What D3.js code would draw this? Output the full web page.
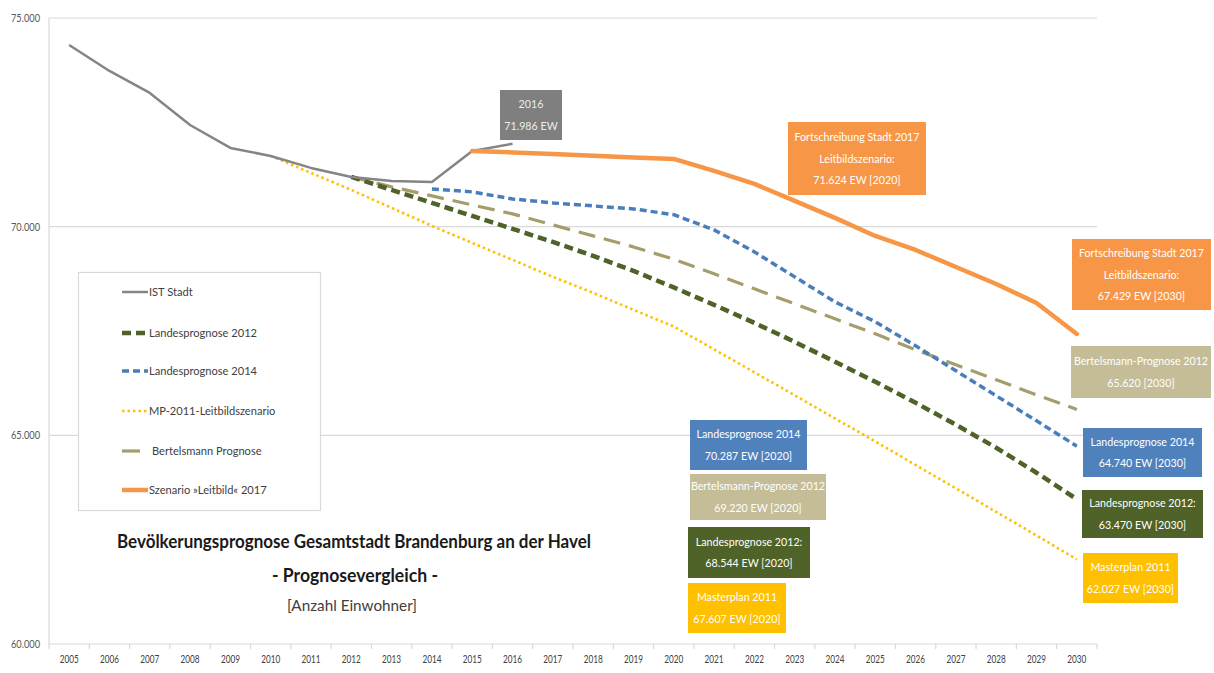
<!DOCTYPE html>
<html>
<head>
<meta charset="utf-8">
<script src="https://cdn.jsdelivr.net/npm/d3@7"></script>
<style>
  body { margin: 0; background: #fff; }
  svg { display: block; font-family: Lato, 'DejaVu Sans Condensed', sans-serif; }
</style>
</head>
<body>
<svg id="chart" width="1214" height="673"></svg>
<script>
// Years on the category axis
const years = [2005, 2006, 2007, 2008, 2009, 2010, 2011, 2012, 2013, 2014, 2015, 2016, 2017,
               2018, 2019, 2020, 2021, 2022, 2023, 2024, 2025, 2026, 2027, 2028, 2029, 2030];

// Population per year (null = no value for that year)
const istStadt = [74353, 73731, 73204, 72437, 71887, 71695, 71408, 71192, 71096, 71072, 71815, 71986,
                  null, null, null, null, null, null, null, null, null, null, null, null, null, null];
const landesprognose2012 = [null, null, null, null, null, null, null,
                  71192, 70881, 70569, 70258, 69947, 69635, 69300, 68941, 68544,
                  68126, 67695, 67240, 66761, 66282, 65780, 65253, 64702, 64103, 63470];
const landesprognose2014 = [null, null, null, null, null, null, null, null, null,
                  70905, 70833, 70665, 70569, 70497, 70425, 70287,
                  69923, 69396, 68797, 68198, 67720, 67145, 66546, 65947, 65348, 64740];
const mp2011Leitbild = [null, null, null, null, null,
                  71695, 71288, 70881, 70450, 70018, 69611, 69204, 68797, 68414, 68007, 67607,
                  67060, 66510, 65960, 65405, 64850, 64290, 63730, 63165, 62600, 62027];
const bertelsmann = [null, null, null, null, null, null, null,
                  71192, 70953, 70737, 70521, 70306, 70042, 69779, 69515, 69220,
                  68869, 68510, 68151, 67791, 67432, 67049, 66690, 66330, 65971, 65620];
const leitbild2017 = [null, null, null, null, null, null, null, null, null, null,
                  71815, 71780, 71740, 71700, 71660, 71624,
                  71336, 71025, 70617, 70210, 69778, 69441, 69034, 68626, 68171, 67429];

// Value axis ticks
const yTicks = [60000, 65000, 70000, 75000];

// Legend labels
const legendLabels = ["IST Stadt", "Landesprognose 2012", "Landesprognose 2014",
                      "MP-2011-Leitbildszenario", "Bertelsmann Prognose", "Szenario \u00bbLeitbild\u00ab 2017"];

// Chart title lines
const titleLines = ["Bev\u00f6lkerungsprognose Gesamtstadt Brandenburg an der Havel",
                    "- Prognosevergleich -", "[Anzahl Einwohner]"];

// ---------------------------------------------------------------------------
const de = d3.formatLocale({ decimal: ",", thousands: ".", grouping: [3], currency: ["", " \u20ac"] });
const fmt = de.format(",d");

const svg = d3.select("#chart");
const plotL = 49, plotR = 1097, plotT = 18, plotB = 644;

// Natural width of a string at a given size
function measure(str, size, weight) {
  const t = svg.append("text").style("font-size", size + "px").attr("font-weight", weight || "normal").text(str);
  const w = t.node().getComputedTextLength();
  t.remove();
  return w;
}
// Narrow the glyphs horizontally (condensed look) by a factor k of their natural width
function squeeze(sel, k) {
  sel.each(function () {
    const w = this.getComputedTextLength();
    d3.select(this).attr("textLength", w * k).attr("lengthAdjust", "spacingAndGlyphs");
  });
}
// Factor that brings `str` at `size` to `target` pixels wide
const factorFor = (str, size, weight, target) => target / measure(str, size, weight);

const x = d3.scaleBand().domain(years).range([plotL, plotR]).paddingInner(0).paddingOuter(0);
const xc = yr => x(yr) + x.bandwidth() / 2;
const y = d3.scaleLinear().domain([60000, 75000]).range([plotB, plotT]);

// Gridlines
const grid = svg.append("g");
grid.selectAll("line.h").data(yTicks).join("line")
  .attr("x1", plotL).attr("x2", plotR)
  .attr("y1", d => y(d)).attr("y2", d => y(d))
  .attr("stroke", "#d9d9d9").attr("stroke-width", 1.2);
grid.append("line").attr("x1", plotL).attr("x2", plotL).attr("y1", plotT).attr("y2", plotB)
  .attr("stroke", "#d9d9d9").attr("stroke-width", 1.2);

// Value axis labels
const kYAxis = factorFor("75.000", 10.5, "normal", 29);
const yAxis = d3.axisLeft(y).tickValues(yTicks).tickFormat(fmt).tickSize(0).tickPadding(9);
svg.append("g").attr("transform", `translate(${plotL},0)`).call(yAxis)
  .call(g => g.select(".domain").remove())
  .call(g => g.selectAll("text").attr("fill", "#595959").style("font-size", "10.5px")
    .style("font-family", "Lato, sans-serif").call(squeeze, kYAxis));

// Category axis
const kXAxis = factorFor("2005", 10.5, "normal", 19);
const xAxis = d3.axisBottom(x).tickSize(0).tickPadding(12);
svg.append("g").attr("transform", `translate(0,${plotB})`).call(xAxis)
  .call(g => g.select(".domain").remove())
  .call(g => g.selectAll("text").attr("fill", "#404040").style("font-size", "10.5px")
    .style("font-family", "Lato, sans-serif").call(squeeze, kXAxis));
// tick marks between categories
svg.append("g").selectAll("line").data(years.concat([null])).join("line")
  .attr("x1", (d, i) => plotL + i * x.bandwidth()).attr("x2", (d, i) => plotL + i * x.bandwidth())
  .attr("y1", plotB).attr("y2", plotB + 5)
  .attr("stroke", "#d9d9d9").attr("stroke-width", 1.2);

// Series
const series = [
  { name: legendLabels[0], values: istStadt, color: "#858585", width: 2.5, dash: null, cap: "butt" },
  { name: legendLabels[1], values: landesprognose2012, color: "#4f6228", width: 4.5, dash: "9,5", cap: "butt" },
  { name: legendLabels[2], values: landesprognose2014, color: "#4a7ebb", width: 3.5, dash: "7,4", cap: "butt" },
  { name: legendLabels[3], values: mp2011Leitbild, color: "#ffc000", width: 2.6, dash: "2.5,3", cap: "butt" },
  { name: legendLabels[4], values: bertelsmann, color: "#a69d6c", width: 3.2, dash: "17,9", cap: "butt" },
  { name: legendLabels[5], values: leitbild2017, color: "#f79646", width: 4.5, dash: null, cap: "round" }
];

const line = d3.line()
  .defined(d => d.v != null)
  .x(d => xc(d.year))
  .y(d => y(d.v));

const drawOrder = [3, 4, 1, 2, 0, 5];
svg.append("g").selectAll("path").data(drawOrder.map(i => series[i])).join("path")
  .attr("d", s => line(years.map((yr, i) => ({ year: yr, v: s.values[i] }))))
  .attr("fill", "none")
  .attr("stroke", s => s.color)
  .attr("stroke-width", s => s.width)
  .attr("stroke-dasharray", s => s.dash)
  .attr("stroke-linecap", s => s.cap)
  .attr("stroke-linejoin", "round");

// Legend
const kLegend = factorFor("Landesprognose 2012", 12, "normal", 108);
const lg = svg.append("g");
lg.append("rect").attr("x", 78.5).attr("y", 272.5).attr("width", 242).attr("height", 238)
  .attr("fill", "#fff").attr("stroke", "#d9d9d9").attr("stroke-width", 1.2);
const legendRows = [292, 333, 371, 411, 451, 490];
series.forEach((s, i) => {
  const yy = legendRows[i];
  const short = i === 4;
  lg.append("line").attr("x1", 122).attr("x2", short ? 140 : 148).attr("y1", yy).attr("y2", yy)
    .attr("stroke", s.color).attr("stroke-width", s.width)
    .attr("stroke-dasharray", i === 4 ? null : s.dash);
  lg.append("text").attr("x", short ? 152 : 149).attr("y", yy).attr("dy", "0.35em")
    .attr("fill", "#404040").style("font-size", "12px").text(s.name).call(squeeze, kLegend);
});

// Title
const titleG = svg.append("g").attr("text-anchor", "middle");
titleG.append("text").attr("x", 354).attr("y", 548).attr("font-weight", "bold")
  .attr("fill", "#1a1a1a").style("font-size", "19px")
  .attr("textLength", 474).attr("lengthAdjust", "spacingAndGlyphs").text(titleLines[0]);
titleG.append("text").attr("x", 355).attr("y", 582).attr("font-weight", "bold")
  .attr("fill", "#1a1a1a").style("font-size", "19px")
  .attr("textLength", 166).attr("lengthAdjust", "spacingAndGlyphs").text(titleLines[1]);
titleG.append("text").attr("x", 352).attr("y", 611)
  .attr("fill", "#404040").style("font-size", "16px")
  .attr("textLength", 130).attr("lengthAdjust", "spacingAndGlyphs").text(titleLines[2]);

// Value call-out boxes
const valueAt = (arr, yr) => arr[years.indexOf(yr)];
const callouts = [
  { box: [500, 90, 62, 50], fill: "#7f7f7f", color: "#ececec",
    lines: ["2016", fmt(valueAt(istStadt, 2016)) + " EW"] },
  { box: [788, 122, 138, 73], fill: "#f79646", color: "#fff",
    lines: ["Fortschreibung Stadt 2017", "Leitbildszenario:", fmt(valueAt(leitbild2017, 2020)) + "  EW [2020]"] },
  { box: [1072, 239, 139, 71], fill: "#f79646", color: "#fff",
    lines: ["Fortschreibung Stadt 2017", "Leitbildszenario:", fmt(valueAt(leitbild2017, 2030)) + "  EW [2030]"] },
  { box: [1071, 346, 140, 52], fill: "#c4bd97", color: "#fff", size: 10.8,
    lines: ["Bertelsmann-Prognose 2012", fmt(valueAt(bertelsmann, 2030)) + " [2030]"] },
  { box: [690, 420, 117, 50], fill: "#4f81bd", color: "#fff",
    lines: ["Landesprognose 2014", fmt(valueAt(landesprognose2014, 2020)) + " EW [2020]"] },
  { box: [690, 474, 136, 46], fill: "#c4bd97", color: "#fff",
    lines: ["Bertelsmann-Prognose 2012", fmt(valueAt(bertelsmann, 2020)) + " EW [2020]"] },
  { box: [688, 527, 122, 51], fill: "#4f6228", color: "#fff",
    lines: ["Landesprognose 2012:", fmt(valueAt(landesprognose2012, 2020)) + "  EW [2020]"] },
  { box: [688, 583, 98, 50], fill: "#ffc000", color: "#fff",
    lines: ["Masterplan 2011", fmt(valueAt(mp2011Leitbild, 2020)) + "  EW [2020]"] },
  { box: [1083, 428, 119, 49], fill: "#4f81bd", color: "#fff",
    lines: ["Landesprognose 2014", fmt(valueAt(landesprognose2014, 2030)) + " EW [2030]"] },
  { box: [1082, 490, 121, 48], fill: "#4f6228", color: "#fff",
    lines: ["Landesprognose 2012:", fmt(valueAt(landesprognose2012, 2030)) + "  EW [2030]"] },
  { box: [1083, 553, 95, 50], fill: "#ffc000", color: "#fff",
    lines: ["Masterplan 2011", fmt(valueAt(mp2011Leitbild, 2030)) + " EW [2030]"] }
];

const boxFont = 11.6;
const kBox = factorFor("Fortschreibung Stadt 2017", boxFont, "normal", 125);
const cg = svg.append("g").selectAll("g").data(callouts).join("g");
cg.append("rect")
  .attr("x", d => d.box[0]).attr("y", d => d.box[1])
  .attr("width", d => d.box[2]).attr("height", d => d.box[3])
  .attr("fill", d => d.fill);
cg.each(function (d) {
  const g = d3.select(this);
  const n = d.lines.length;
  const step = 21.5;
  const cy = d.box[1] + d.box[3] / 2;
  d.lines.forEach((t, i) => {
    // drawn width follows the common box scale, independent of the glyph size used
    const w = measure(t, boxFont) * kBox;
    g.append("text")
      .attr("x", d.box[0] + d.box[2] / 2)
      .attr("y", cy + (i - (n - 1) / 2) * step)
      .attr("dy", "0.35em")
      .attr("text-anchor", "middle")
      .attr("fill", d.color)
      .style("font-size", (d.size || boxFont) + "px")
      .attr("textLength", w)
      .attr("lengthAdjust", "spacingAndGlyphs")
      .text(t);
  });
});
</script>
</body>
</html>
